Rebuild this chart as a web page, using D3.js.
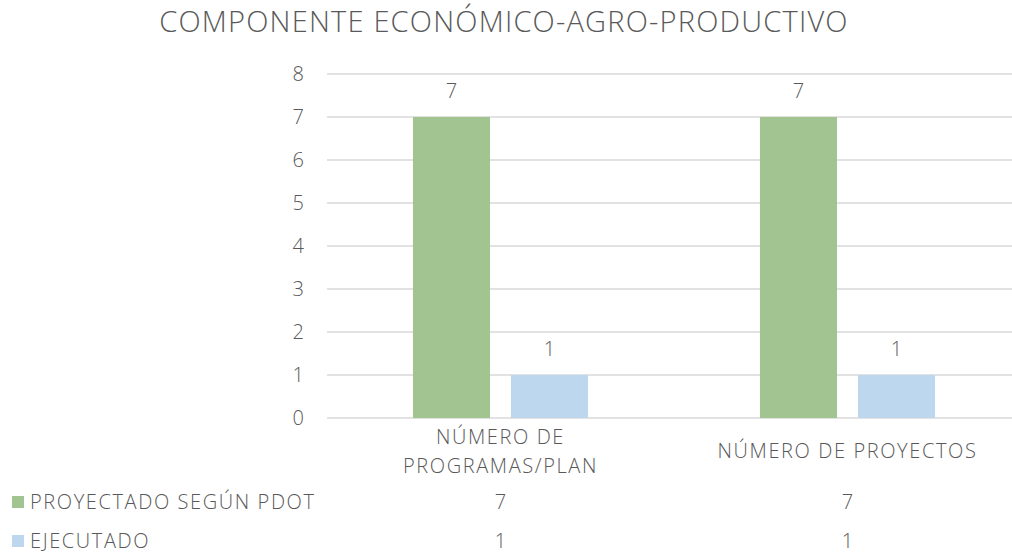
<!doctype html>
<html>
	<head>
		<meta charset="utf-8">
		<title>Componente económico-agro-productivo</title>
		<style>
			body{
				margin: 0;
				background: #fff;
			}
			text{
				font-family: "Open Sans", "Liberation Sans", sans-serif;
				font-weight: 300;
				fill: #595959;
				font-size: 20px;
			}
			.wide{
				letter-spacing: 1.6px;
			}
		</style>
	</head>
	<body>
		<svg id="chart" width="1012" height="553"></svg>
		<script src="https://d3js.org/d3.v7.min.js"></script>
		<script>
			// data
			var categories = [["NÚMERO DE", "PROGRAMAS/PLAN"], ["NÚMERO DE PROYECTOS"]];
			var seriesNames = ["PROYECTADO SEGÚN PDOT", "EJECUTADO"];
			var proyectado = [7, 7];
			var ejecutado = [1, 1];
			var yTicks = [0, 1, 2, 3, 4, 5, 6, 7, 8];
			var colors = ["#a1c490", "#bdd7ee"];

			var svg = d3.select("#chart");
			var plotLeft = 327, plotRight = 1021, plotTop = 74, plotBottom = 418;

			var x = d3.scaleBand().domain([0, 1]).range([plotLeft, plotRight]);
			var sub = d3.scaleBand().domain([0, 1]).range([0, x.bandwidth()]).paddingInner(0.214).paddingOuter(0.877);
			var y = d3.scaleLinear().domain([0, 8]).range([plotBottom, plotTop]);

			svg.append("text")
				.attr("x", 504).attr("y", 32)
				.attr("text-anchor", "middle")
				.style("font-size", "29px")
				.style("letter-spacing", "1.2px")
				.text("COMPONENTE ECONÓMICO-AGRO-PRODUCTIVO");

			// grid
			svg.append("g").selectAll("line").data(yTicks).enter().append("line")
				.attr("x1", plotLeft).attr("x2", plotRight)
				.attr("y1", function(d){ return y(d); })
				.attr("y2", function(d){ return y(d); })
				.attr("stroke", "#d9d9d9").attr("stroke-width", 1.5);

			svg.append("g").selectAll("text").data(yTicks).enter().append("text")
				.attr("x", 304).attr("y", function(d){ return y(d); })
				.attr("dy", "0.35em")
				.attr("text-anchor", "end")
				.text(function(d){ return d; });

			var series = [proyectado, ejecutado];
			series.forEach(function(vals, si){
				var g = svg.append("g");
				g.selectAll("rect").data(vals).enter().append("rect")
					.attr("x", function(d, i){ return x(i) + sub(si); })
					.attr("width", sub.bandwidth())
					.attr("y", function(d){ return y(d); })
					.attr("height", function(d){ return plotBottom - y(d); })
					.attr("fill", colors[si]);
				g.selectAll("text").data(vals).enter().append("text")
					.attr("x", function(d, i){ return x(i) + sub(si) + sub.bandwidth() / 2; })
					.attr("y", function(d){ return y(d) - 19; })
					.attr("text-anchor", "middle")
					.text(function(d){ return d; });
			});

			// category labels
			categories.forEach(function(lines, i){
				var cx = x(i) + x.bandwidth() / 2;
				var y0 = lines.length === 1 ? 458 : 444;
				lines.forEach(function(l, li){
					svg.append("text")
						.attr("class", "wide")
						.attr("x", cx).attr("y", y0 + li * 29)
						.attr("text-anchor", "middle")
						.text(l);
				});
			});

			// data table rows
			var rowY = [502, 541];
			series.forEach(function(vals, si){
				svg.append("rect")
					.attr("x", 12).attr("y", rowY[si] - 6)
					.attr("width", 12).attr("height", 12)
					.attr("fill", colors[si]);
				svg.append("text")
					.attr("class", "wide")
					.attr("x", 30).attr("y", rowY[si])
					.attr("dy", "0.35em")
					.text(seriesNames[si]);
				vals.forEach(function(v, i){
					svg.append("text")
						.attr("x", x(i) + x.bandwidth() / 2).attr("y", rowY[si])
						.attr("dy", "0.35em")
						.attr("text-anchor", "middle")
						.text(v);
				});
			});
		</script>
	</body>
</html>
